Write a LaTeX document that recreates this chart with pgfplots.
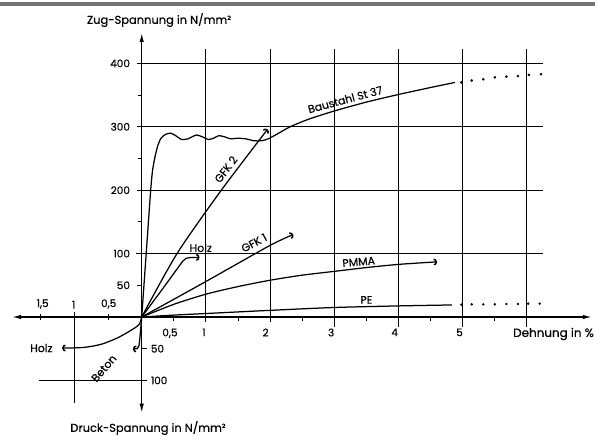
\documentclass[border=0pt]{standalone}
\usepackage{pgfplots}
\pgfplotsset{compat=1.18}
\usepackage{fontspec}
\setmainfont[FakeBold=0.4]{Poppins}
\usetikzlibrary{arrows.meta}

\pgfplotsset{
  base/.style={at={(141.7bp,-317bp)}, anchor=origin, y=0.634bp,
    ymin=-151, ymax=448, clip=false, xtick=\empty, ytick=\empty},
  curve/.style={black, line width=1.25bp, smooth, tension=0.45, mark=none},
  hook/.style={-{Arc Barb[width=7bp,length=3.2bp,line width=1.5bp]}},
}
\tikzset{
  grid/.style={black, line width=0.9bp},
  tl/.style={inner sep=0pt, font=\fontsize{10.5}{12}\selectfont},
  cl/.style={inner sep=0pt, font=\fontsize{11}{12}\selectfont},
}

\begin{document}
\begin{tikzpicture}
\useasboundingbox (0bp,0bp) rectangle (595bp,-436bp);
\fill[black!55] (0bp,-1.5bp) rectangle (595bp,-5.5bp);

% ---------- right part (tension / positive strain) ----------
\begin{axis}[base, x=64.2bp, xmin=-2.02, xmax=7.01,
  axis lines=middle,
  every inner x axis line/.append style={line width=1.3bp,{Latex[length=9bp,width=4.5bp]}-{Latex[length=9bp,width=4.5bp]}},
  every inner y axis line/.append style={line width=1.3bp,{Latex[length=9bp,width=4.5bp]}-{Latex[length=9bp,width=4.5bp]}},
]
% grid lines
\draw[grid] (-0.09,100) -- (6.25,100);
\draw[grid] (-0.07,200) -- (6.25,200);
\draw[grid] (-0.07,300) -- (6.25,300);
\draw[grid] (-0.07,400) -- (6.25,400);
\draw[grid] (-0.07,50) -- (0,50);
\draw[grid] (-0.05,150) -- (0,150);
\draw[grid] (-0.05,250) -- (0,250);
\draw[grid] (-0.05,350) -- (0,350);
\draw[grid] (1,-8) -- (1,423);
\draw[grid] (2,-8) -- (2,423);
\draw[grid] (3,-15) -- (3,423);
\draw[grid] (4,-15) -- (4,423);
\draw[grid] (5,-15) -- (5,423);
\draw[grid] (6,-15) -- (6,423);
\draw[grid] (0.5,0) -- (0.5,-7);
\draw[grid] (1.5,0) -- (1.5,-7);
\draw[grid] (2.5,0) -- (2.5,-7);
\draw[grid] (3.5,0) -- (3.5,-7);
\draw[grid] (4.5,0) -- (4.5,-7);
\draw[grid] (5.5,0) -- (5.5,-7);
\draw[grid] (0,-50) -- (0.08,-50);
\draw[grid] (0,-100) -- (0.08,-100);

% tick labels
\node[tl, anchor=east] at (-0.18,400) {400};
\node[tl, anchor=east] at (-0.18,300) {300};
\node[tl, anchor=east] at (-0.18,200) {200};
\node[tl, anchor=east] at (-0.18,100) {100};
\node[tl, anchor=east] at (-0.18,50) {50};
\node[tl, anchor=west] at (0.14,-50) {50};
\node[tl, anchor=west] at (0.14,-100) {100};
\node[tl, anchor=north] at (0.44,-18) {0,5};
\node[tl, anchor=north] at (0.97,-18) {1};
\node[tl, anchor=north] at (1.93,-18) {2};
\node[tl, anchor=north] at (2.95,-18) {3};
\node[tl, anchor=north] at (3.94,-18) {4};
\node[tl, anchor=north] at (4.95,-18) {5};

% Baustahl St 37
\addplot[curve, tension=0.35] coordinates {
 (0,0) (0.07,100) (0.14,200) (0.17,232) (0.21,254) (0.25,270) (0.3,282)
 (0.37,288) (0.45,290) (0.53,286) (0.62,280) (0.72,281) (0.85,287)
 (0.95,284) (1.04,280) (1.12,282) (1.2,286) (1.3,284) (1.38,281)
 (1.5,282) (1.62,281) (1.75,278) (1.87,278) (1.97,281) (2.1,288)
 (2.31,300) (2.6,312) (3,325) (3.5,339) (4,351) (4.5,362) (4.88,370)};
\addplot[only marks, mark=*, mark size=1.1bp, black] coordinates {
 (4.98,370) (5.14,373) (5.32,375) (5.5,378) (5.68,379) (5.86,380) (6.03,382) (6.22,383)};
% GFK 2
\addplot[curve, hook] coordinates {(0,0) (0.55,100) (1.24,200) (1.96,296)};
% Holz (Zug)
\addplot[curve, hook, tension=0.3] coordinates {(0,0) (0.33,45) (0.64,88) (0.71,93) (0.8,94) (0.9,94)};
% GFK 1
\addplot[curve, hook] coordinates {(0,0) (1,56) (2,113) (2.36,130)};
% PMMA
\addplot[curve, hook] coordinates {(0,0) (0.5,20) (1,36) (1.5,48) (2,58) (2.5,66) (3,72) (3.5,78) (4,83) (4.6,87)};
% PE
\addplot[curve] coordinates {(0,0) (0.5,3) (1,5.5) (2,10.5) (3,15) (4,17.5) (4.83,19)};
\addplot[only marks, mark=*, mark size=1.0bp, black] coordinates {
 (4.98,19.5) (5.14,20) (5.32,20) (5.5,20) (5.68,20.5) (5.86,20.5) (6.02,21) (6.2,21)};

% curve labels
\node[cl, rotate=15] at (3.17,343) {Baustahl St 37};
\node[cl, rotate=53] at (1.31,233) {GFK 2};
\node[cl] at (0.92,109) {Holz};
\node[cl, rotate=28] at (1.75,117) {GFK 1};
\node[cl, rotate=5] at (3.38,87) {PMMA};
\node[cl] at (3.5,27) {PE};
\end{axis}

% ---------- left part (compression) ----------
\begin{axis}[base, x=67.4bp, xmin=-1.92, xmax=0, axis lines=none]
\draw[grid] (-1,8) -- (-1,-136);
\draw[grid] (-1.53,-100) -- (0,-100);
\draw[grid] (-0.5,-4) -- (-0.5,5);
\draw[grid] (-1.5,-4) -- (-1.5,5);
\node[tl, anchor=south] at (-1.47,13) {1,5};
\node[tl, anchor=south] at (-1.01,13) {1};
\node[tl, anchor=south] at (-0.49,13) {0,5};
% Holz (Druck)
\addplot[curve, hook] coordinates {(0,0) (-0.04,-12) (-0.16,-21) (-0.36,-33) (-0.6,-43) (-0.86,-48) (-1.18,-49)};
% Beton
\addplot[curve, hook, tension=0.3] coordinates {(0,0) (-0.02,-25) (-0.04,-45) (-0.07,-50) (-0.13,-50)};
\node[cl, anchor=east] at (-1.32,-49) {Holz};
\node[cl, rotate=49] at (-0.56,-81) {Beton};
\end{axis}

% axis titles
\node[inner sep=0pt, font=\fontsize{11.5}{13}\selectfont] at (159bp,-20bp) {Zug-Spannung in N/mm²};
\node[inner sep=0pt, font=\fontsize{11.5}{13}\selectfont] at (148bp,-428bp) {Druck-Spannung in N/mm²};
\node[inner sep=0pt, anchor=east, font=\fontsize{12}{14}\selectfont] at (594bp,-334bp) {Dehnung in \%};
\end{tikzpicture}
\end{document}
